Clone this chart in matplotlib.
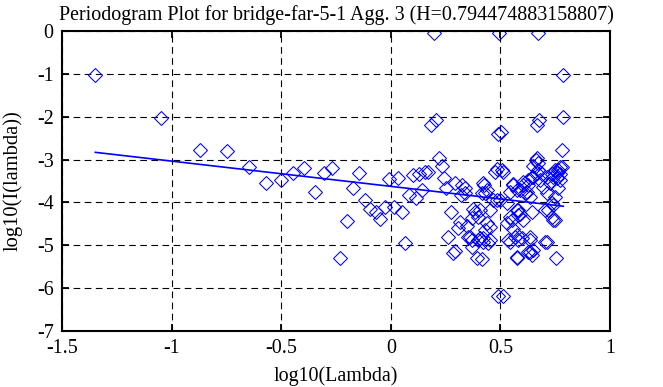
import numpy as np
import matplotlib
matplotlib.use("Agg")
import matplotlib.pyplot as plt

# Datos
titulo = "Periodogram Plot for bridge-far-5-1 Agg. 3 (H=0.794474883158807)"
H = 0.794474883158807
intercepto = -3.625

log_lambda = [
    -1.348, -1.047, -0.871, -0.746, -0.649, -0.570, -0.503, -0.445, -0.394, -0.348,
    -0.307, -0.269, -0.234, -0.202, -0.172, -0.144, -0.118, -0.093, -0.069, -0.047,
    -0.026, -0.006, 0.014, 0.032, 0.050, 0.067, 0.083, 0.099, 0.114, 0.129,
    0.143, 0.157, 0.171, 0.183, 0.196, 0.208, 0.220, 0.232, 0.243, 0.254,
    0.262, 0.275, 0.285, 0.295, 0.295, 0.305, 0.316, 0.319, 0.323, 0.338,
    0.338, 0.346, 0.351, 0.361, 0.369, 0.369, 0.369, 0.377, 0.384, 0.392,
    0.399, 0.399, 0.407, 0.407, 0.415, 0.415, 0.422, 0.422, 0.422, 0.425,
    0.430, 0.430, 0.437, 0.438, 0.445, 0.453, 0.453, 0.453, 0.468, 0.475,
    0.483, 0.483, 0.490, 0.491, 0.495, 0.498, 0.501, 0.506, 0.513, 0.513,
    0.529, 0.529, 0.536, 0.544, 0.544, 0.544, 0.552, 0.559, 0.559, 0.559,
    0.567, 0.574, 0.574, 0.574, 0.575, 0.575, 0.582, 0.582, 0.582, 0.590,
    0.590, 0.597, 0.605, 0.605, 0.605, 0.613, 0.620, 0.628, 0.628, 0.628,
    0.635, 0.635, 0.635, 0.635, 0.643, 0.643, 0.643, 0.650, 0.650, 0.651,
    0.663, 0.665, 0.665, 0.669, 0.673, 0.673, 0.673, 0.677, 0.681, 0.689,
    0.696, 0.703, 0.704, 0.711, 0.711, 0.711, 0.719, 0.726, 0.734, 0.734,
    0.734, 0.741, 0.741, 0.742, 0.749, 0.749, 0.749, 0.754, 0.757, 0.757,
    0.764, 0.764, 0.772, 0.772, 0.772, 0.780, 0.780, 0.787, 0.787,
]

log_I = [
    -1.03, -2.04, -2.78, -2.79, -3.17, -3.54, -3.48, -3.32, -3.20, -3.75,
    -3.32, -3.20, -5.30, -4.43, -3.67, -3.32, -3.94, -4.16, -4.22, -4.39,
    -4.10, -3.46, -4.10, -3.44, -4.22, -4.94, -3.83, -3.36, -3.90, -3.34,
    -3.71, -3.30, -3.28, -2.19, -0.05, -2.08, -2.97, -3.15, -3.42, -3.67,
    -4.80, -4.22, -5.17, -3.55, -5.13, -4.60, -4.45, -3.83, -3.60, -3.79,
    -3.67, -4.55, -4.80, -4.80, -5.03, -4.37, -4.88, -4.15, -4.22, -5.30,
    -4.33, -4.88, -4.84, -4.18, -3.79, -5.31, -3.55, -4.92, -4.84, -3.60,
    -3.79, -4.64, -4.49, -3.72, -4.95, -4.57, -4.18, -4.88, -3.95, -3.28,
    -3.94, -3.23, -6.18, -2.40, -0.05, -3.95, -2.36, -3.25, -3.28, -6.18,
    -4.02, -4.49, -4.88, -3.75, -4.92, -4.33, -4.42, -3.59, -3.56, -4.61,
    -4.80, -3.71, -4.18, -5.30, -4.77, -5.27, -4.29, -4.88, -4.18, -3.72,
    -4.26, -4.84, -3.52, -4.41, -3.60, -3.79, -3.75, -3.59, -3.48, -5.15,
    -3.87, -4.80, -4.88, -5.15, -3.40, -4.22, -5.23, -3.40, -5.11, -3.16,
    -3.02, -3.32, -2.97, -2.19, -0.05, -3.09, -3.25, -2.08, -3.48, -3.33,
    -3.63, -4.18, -4.92, -3.79, -3.40, -4.92, -4.18, -3.55, -4.02, -3.33,
    -4.34, -3.40, -4.41, -4.07, -3.87, -3.25, -4.42, -5.30, -3.32, -3.44,
    -3.67, -3.24, -3.48, -3.17, -3.33, -2.78, -3.17, -1.03, -2.01,
]

pendiente = 1 - 2 * H

# Estilo parecido a gnuplot
plt.rcParams['font.family'] = ['Liberation Serif', 'DejaVu Serif']
plt.rcParams['axes.unicode_minus'] = False

fig = plt.figure(figsize=(6.63, 3.87), dpi=100)
ax = fig.add_axes([62 / 663, 1 - 331 / 387, 548 / 663, 300 / 387])

ax.plot(log_lambda, log_I, linestyle='none', marker='D', markersize=7.1,
        markerfacecolor='none', markeredgecolor='#0000ff', markeredgewidth=0.75)

x_recta = np.array([min(log_lambda), max(log_lambda)])
ax.plot(x_recta, intercepto + pendiente * x_recta, color='#0000ff', linewidth=1.2)

ax.set_xlim(-1.5, 1)
ax.set_ylim(-7, 0)
ax.set_xticks([-1.5, -1, -0.5, 0, 0.5, 1])
ax.set_xticklabels(['-1.5', '-1', '-0.5', '0', '0.5', '1'])
ax.set_yticks(range(-7, 1))
ax.set_yticklabels([str(v) for v in range(-7, 1)])

ax.grid(True, color='black', linestyle=(0, (6, 4)), linewidth=0.8)
ax.tick_params(direction='in', length=5, width=1.3, top=True, right=True,
               labelsize=14.4, pad=6)
for lado in ax.spines.values():
    lado.set_linewidth(1.5)

ax.set_title(titulo, fontsize=14.4, pad=8)
ax.set_xlabel('log10(Lambda)', fontsize=14.4, labelpad=6)
ax.set_ylabel('log10(I(lambda))', fontsize=14.8, labelpad=10)

fig.savefig('out.png', dpi=100)
